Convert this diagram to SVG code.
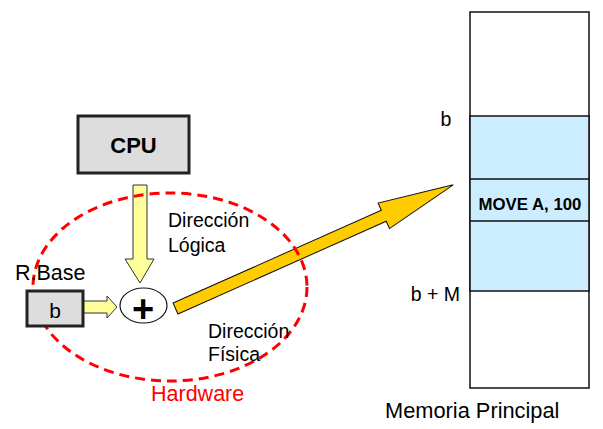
<svg xmlns="http://www.w3.org/2000/svg" width="603" height="429" viewBox="0 0 603 429">
<style>
text{font-family:"Liberation Sans",Arial,sans-serif;fill:#000}
.box{fill:#DDDDDD;stroke:#222;stroke-width:3}
.yarrow{fill:#FFFF99;stroke:#333;stroke-width:1}
.mem{fill:#fff;stroke:#111;stroke-width:1.5}
.memb{fill:#CCECFF;stroke:#111;stroke-width:1.5}
.lbl{font-size:19.5px}
</style>
<rect width="603" height="429" fill="#fff"/>
<g id="memory">
<rect class="mem" x="470" y="12" width="119" height="376"/>
<rect class="memb" x="470" y="116" width="119" height="175"/>
<line x1="470" y1="179" x2="589" y2="179" stroke="#111" stroke-width="1.5"/>
<line x1="470" y1="221" x2="589" y2="221" stroke="#111" stroke-width="1.5"/>
<text x="530" y="210" font-size="16.8" font-weight="bold" text-anchor="middle">MOVE A, 100</text>
<text x="446" y="126" font-size="19.5" text-anchor="middle">b</text>
<text x="460" y="301" font-size="19.5" text-anchor="end">b + M</text>
<text x="385" y="418" font-size="21.8">Memoria Principal</text>
</g>
<g id="connectors">
<polygon class="yarrow" points="133,185 147,185 147,259 154,259 140,283 125,259 133,259"/>
<polygon class="yarrow" points="83,301 107,301 107,296 117,307 107,318 107,313 83,313"/>
<polygon fill="#FFCC00" stroke="#111" stroke-width="1" transform="translate(175.5,308.5) rotate(-24)" points="0,-6 228,-6 228,-14 304,0 228,14 228,6 0,6"/>
</g>
<g id="hardware">
<ellipse cx="170" cy="287" rx="137" ry="94" fill="none" stroke="#FF0000" stroke-width="3" stroke-dasharray="10,6"/>
<text x="151" y="401" font-size="21.5" style="fill:#FF0000">Hardware</text>
</g>
<g id="cpu">
<rect class="box" x="78" y="116" width="111" height="57"/>
<text x="133.5" y="153" font-size="22" font-weight="bold" text-anchor="middle">CPU</text>
</g>
<g id="rbase">
<rect class="box" x="27" y="291" width="56" height="35"/>
<text x="55" y="318" font-size="21" text-anchor="middle">b</text>
<text x="15" y="280" font-size="21.5">R.Base</text>
</g>
<g id="adder">
<ellipse cx="143.5" cy="305.5" rx="23.5" ry="17.5" fill="#fff" stroke="#111" stroke-width="1.2"/>
<text x="143" y="321.5" font-size="38" font-weight="bold" text-anchor="middle">+</text>
</g>
<g id="labels">
<text class="lbl" x="168" y="227">Dirección</text>
<text class="lbl" x="168" y="252">Lógica</text>
<text class="lbl" x="208" y="338">Dirección</text>
<text class="lbl" x="208" y="361">Física</text>
</g>
</svg>
